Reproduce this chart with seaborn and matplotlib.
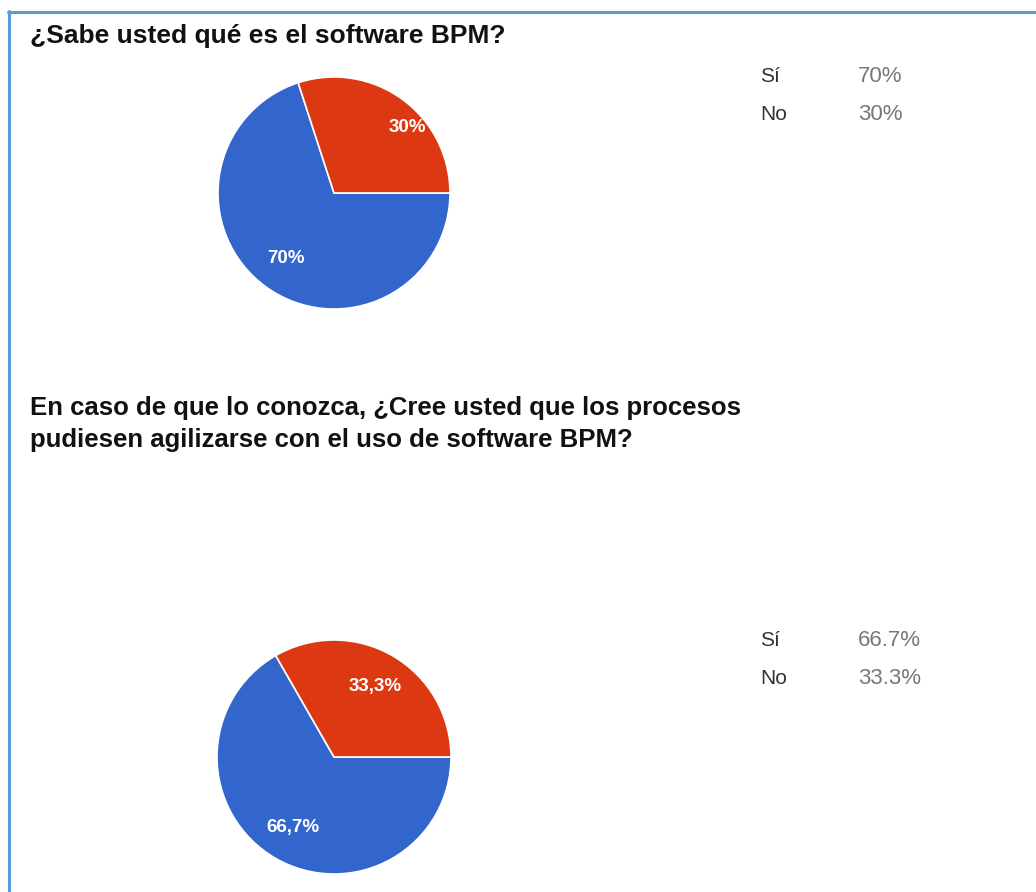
import matplotlib
matplotlib.use("Agg")
import matplotlib.pyplot as plt
import seaborn as sns
from matplotlib.lines import Line2D

# datos de las dos preguntas
preguntas = ["¿Sabe usted qué es el software BPM?",
             "En caso de que lo conozca, ¿Cree usted que los procesos\npudiesen agilizarse con el uso de software BPM?"]
respuestas = ["Sí", "No"]
valores_p1 = [70, 30]
valores_p2 = [66.7, 33.3]
etiquetas_p1 = ["70%", "30%"]
etiquetas_p2 = ["66.7%", "33.3%"]

sns.set_theme(style="white")
plt.rcParams['font.family'] = ['Liberation Sans', 'DejaVu Sans']
colores = sns.color_palette(["#3366cc", "#dc3912"])

W, H = 1036, 892
fig = plt.figure(figsize=(W / 100, H / 100), dpi=100)
fig.patch.set_facecolor("white")


def px(x, y, w=0, h=0):
    # caja en pixeles (desde arriba) -> coordenadas de figura
    return [x / W, 1 - (y + h) / H, w / W, h / H]


def pastel(pos, valores, etiquetas, pos_leyenda, y_titulo, titulo, tam_titulo, ajuste_x=0.0):
    ax = fig.add_axes(px(*pos))
    wedges, _, autotexts = ax.pie(
        valores, colors=colores, startangle=0, counterclock=False,
        autopct=lambda p: f"{p:.1f}".replace(".", ",").replace(",0", "") + "%",
        pctdistance=0.7,
        wedgeprops=dict(edgecolor="white", linewidth=1.2),
        textprops=dict(color="white", fontsize=13.5, fontweight="bold"))
    for w in wedges:
        w.set_clip_on(False)
    # google coloca la etiqueta pequeña un poco más a la derecha
    x0, y0 = autotexts[1].get_position()
    autotexts[1].set_position((x0 + ajuste_x, y0))
    ax.set_xlim(-1, 1)
    ax.set_ylim(-1, 1)
    ax.set_aspect("equal")

    fig.text(30 / W, 1 - y_titulo / H, titulo, fontsize=tam_titulo, fontweight="bold",
             color="#111111", ha="left", va="top", linespacing=1.42)

    lx, ly = pos_leyenda
    for i, (r, e) in enumerate(zip(respuestas, etiquetas)):
        y = 1 - (ly + i * 38) / H
        fig.text(lx / W, y, r, fontsize=15, color="#333333", va="center")
        fig.text(858 / W, y, e, fontsize=16, color="#777777", va="center")


pastel((218, 77, 232, 232), valores_p1, etiquetas_p1, (760, 77), 24, preguntas[0], 19, 0.22)
pastel((217, 640, 234, 234), valores_p2, etiquetas_p2, (760, 640), 396, preguntas[1], 18.5)

# borde azul arriba e izquierda
fig.add_artist(Line2D([8 / W, 1], [1 - 12 / H, 1 - 12 / H], color="#5b9bd5", linewidth=2.2,
                      transform=fig.transFigure))
fig.add_artist(Line2D([9 / W, 9 / W], [0, 1 - 11 / H], color="#5b9bd5", linewidth=2.2,
                      transform=fig.transFigure))

fig.savefig("out.png", dpi=100)
